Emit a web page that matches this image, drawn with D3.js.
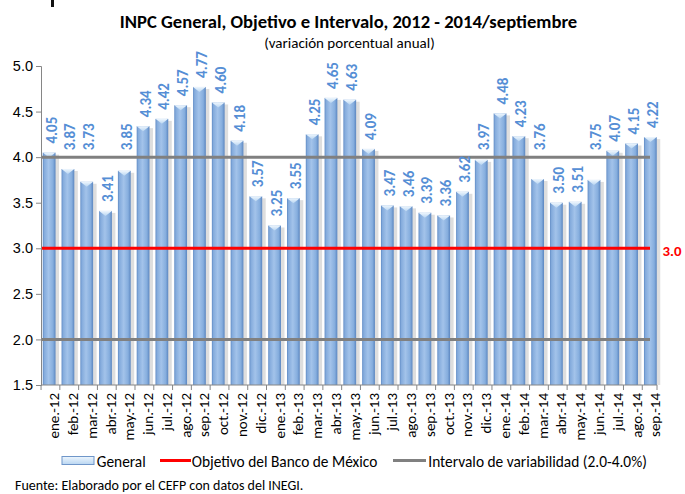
<!DOCTYPE html>
<html><head><meta charset="utf-8">
<script src="https://cdn.jsdelivr.net/npm/d3@7"></script>
<style>
body{margin:0;background:#fff;}
svg{display:block;font-family:Carlito,"Liberation Sans Narrow","Open Sans",sans-serif;}
</style></head>
<body><svg id="c" width="685" height="494"></svg>
<script>
const categories = ["ene.-12","feb.-12","mar.-12","abr.-12","may.-12","jun.-12","jul.-12","ago.-12","sep.-12","oct.-12","nov.-12","dic.-12",
"ene.-13","feb.-13","mar.-13","abr.-13","may.-13","jun.-13","jul.-13","ago.-13","sep.-13","oct.-13","nov.-13","dic.-13",
"ene.-14","feb.-14","mar.-14","abr.-14","may.-14","jun.-14","jul.-14","ago.-14","sep.-14"];
const general = [4.05,3.87,3.73,3.41,3.85,4.34,4.42,4.57,4.77,4.60,4.18,3.57,
3.25,3.55,4.25,4.65,4.63,4.09,3.47,3.46,3.39,3.36,3.62,3.97,
4.48,4.23,3.76,3.50,3.51,3.75,4.07,4.15,4.22];
const objetivo = 3.0;
const intervalo = [2.0, 4.0];
const yTicks = [1.5,2.0,2.5,3.0,3.5,4.0,4.5,5.0];
const title = "INPC General, Objetivo e Intervalo, 2012 - 2014/septiembre";
const subtitle = "(variación porcentual anual)";
const legendLabels = ["General","Objetivo del Banco de México","Intervalo de variabilidad (2.0-4.0%)"];
const source = "Fuente: Elaborado por el CEFP con datos del INEGI.";

const svg = d3.select("#c");
const defs = svg.append("defs");
const g1 = defs.append("linearGradient").attr("id","barG").attr("x1","0").attr("x2","1").attr("y1","0").attr("y2","0");
[[0,"#5f8ac4"],[0.12,"#84abdc"],[0.45,"#a3c3ea"],[0.8,"#86aede"],[1,"#5b86c0"]].forEach(([o,c])=>g1.append("stop").attr("offset",o).attr("stop-color",c));
const g2 = defs.append("linearGradient").attr("id","capG").attr("x1","0").attr("x2","0").attr("y1","0").attr("y2","1");
g2.append("stop").attr("offset",0).attr("stop-color","#eef6fd");
g2.append("stop").attr("offset",1).attr("stop-color","#b9d6f2");

const x = d3.scaleBand().domain(categories).range([40.5,659]).paddingInner(0.32).paddingOuter(0.12);
const y = d3.scaleLinear().domain([1.5,5.0]).range([385,66]);

// title
svg.append("text").attr("x",348.5).attr("y",28.3).attr("text-anchor","middle")
  .attr("font-weight","bold").attr("font-size",18.6).attr("fill","#000").text(title);
svg.append("text").attr("x",349.5).attr("y",47.5).attr("text-anchor","middle")
  .attr("font-size",15).attr("fill","#000").text(subtitle);
svg.append("rect").attr("x",51).attr("y",0).attr("width",3).attr("height",7).attr("fill","#111");

// bars
const bw = x.bandwidth();
const bars = svg.append("g");
categories.forEach((c,i)=>{
  const v = general[i], bx = x(c), by = y(v), bh = y(1.5)-by;
  bars.append("rect").attr("x",bx+2).attr("y",by+2).attr("width",bw+1.5).attr("height",bh-2).attr("fill","#c8c8c8").attr("opacity",0.6);
  bars.append("rect").attr("x",bx).attr("y",by).attr("width",bw).attr("height",bh).attr("fill","url(#barG)");
  bars.append("path").attr("d",`M${bx},${by}L${bx+bw},${by}L${bx+bw/2},${by+5}Z`).attr("fill","url(#capG)");
});

// reference lines
const lx0 = 41, lx1 = 650;
intervalo.forEach(v=>svg.append("line").attr("x1",lx0).attr("x2",lx1).attr("y1",y(v)).attr("y2",y(v))
  .attr("stroke","#808080").attr("stroke-width",3));
svg.append("line").attr("x1",lx0).attr("x2",lx1).attr("y1",y(objetivo)).attr("y2",y(objetivo))
  .attr("stroke","#ff0000").attr("stroke-width",3);
svg.append("text").attr("x",662.5).attr("y",256).attr("font-weight","bold").attr("font-size",14.8)
  .attr("fill","#ff0000").text(objetivo.toFixed(1));

// data labels (labels that would cross the upper interval line are lifted above it)
const upper = d3.max(intervalo);
categories.forEach((c,i)=>{
  const v = general[i];
  const cx = x(c)+bw/2;
  let ty = y(v)-9;
  if (v < upper && v >= 3.7) ty = y(upper)-7;
  svg.append("text").attr("transform",`translate(${cx+7.5},${ty}) rotate(-90)`)
    .attr("font-weight","bold").attr("font-size",15).attr("fill","#558ed5").text(v.toFixed(2));
});

// y axis
const ya = svg.append("g").attr("transform","translate(41,0)")
  .call(d3.axisLeft(y).tickValues(yTicks).tickFormat(d3.format(".1f")).tickSize(5).tickPadding(3));
ya.select(".domain").attr("stroke","#868686");
ya.selectAll(".tick line").attr("stroke","#868686");
ya.selectAll("text").attr("font-size",14.5).attr("fill","#000").attr("font-family",null);

// x axis
const xa = svg.append("g").attr("transform","translate(0,385)");
xa.append("line").attr("x1",41).attr("x2",657).attr("stroke","#868686");
categories.forEach((c,i)=>{
  const tx = x(c) - 1.7;
  xa.append("line").attr("x1",tx).attr("x2",tx).attr("y1",0).attr("y2",5).attr("stroke","#868686");
});
xa.append("line").attr("x1",657).attr("x2",657).attr("y1",0).attr("y2",5).attr("stroke","#868686");
categories.forEach(c=>{
  xa.append("text").attr("transform",`translate(${x(c)+bw/2+10},8) rotate(-90)`)
    .attr("text-anchor","end").attr("font-size",15).attr("fill","#000").text(c);
});

// legend
const ly = 460.5;
const lg = svg.append("g");
lg.append("rect").attr("x",62).attr("y",ly-4).attr("width",32).attr("height",8).attr("fill","url(#capG)").attr("stroke","#6f96c9");
lg.append("text").attr("x",96.7).attr("y",467).attr("font-size",15.4).text(legendLabels[0]);
lg.append("line").attr("x1",160).attr("x2",191).attr("y1",ly).attr("y2",ly).attr("stroke","#ff0000").attr("stroke-width",3);
lg.append("text").attr("x",191.7).attr("y",467).attr("font-size",15.4).text(legendLabels[1]);
lg.append("line").attr("x1",393).attr("x2",426).attr("y1",ly).attr("y2",ly).attr("stroke","#808080").attr("stroke-width",3);
lg.append("text").attr("x",428.3).attr("y",467).attr("font-size",15.4).text(legendLabels[2]);

svg.append("text").attr("x",15).attr("y",490).attr("font-size",14).text(source);
</script></body></html>
